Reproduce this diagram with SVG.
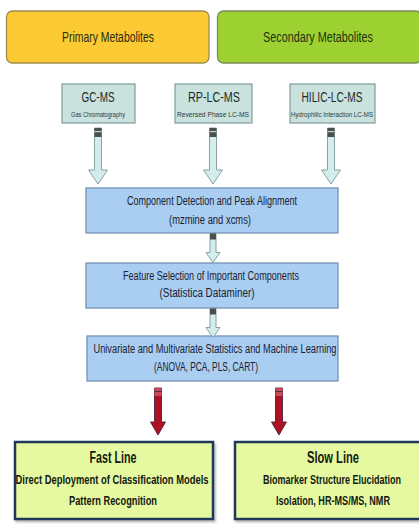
<svg xmlns="http://www.w3.org/2000/svg" xmlns:xlink="http://www.w3.org/1999/xlink" width="419" height="529" viewBox="0 0 419 529">
<style>
  text { font-family: "Liberation Sans Narrow", "Liberation Sans", Arial, sans-serif; text-anchor: middle; }
  .top { font-size: 14px; }
  .src { fill: #c9e2de; stroke: #7f9c9a; stroke-width: 1.2; }
  .srcT { font-size: 15px; fill: #1e2a2a; }
  .srcS { font-size: 6.5px; fill: #2a3a3a; }
  .blue { fill: #a9cef2; stroke: #7393b4; stroke-width: 1.3; }
  .blueT { font-size: 12px; fill: #1c2030; }
  .out { fill: #e6f9a0; stroke: #22385a; stroke-width: 2.5; }
  .outH { font-size: 16px; font-weight: bold; fill: #121a10; }
  .outT { font-size: 12.5px; font-weight: bold; fill: #121a10; }
  .hollow { fill: #d3ecec; stroke: #8aa2a2; stroke-width: 1; }
  .band { fill: #4a4f50; }
  .red { fill: #ae1222; stroke: #5a2a48; stroke-width: 1; }
  .redband { fill: #c84a58; }
</style>
<defs>
  <path id="ah" d="M-3.5,0 H3.5 V42 H9.5 L0,56 L-9.5,42 H-3.5 Z"/>
  <path id="as" d="M-3,0 H3 V19 H7 L0,29 L-7,19 H-3 Z"/>
  <path id="ar" d="M-3.5,0 H3.5 V34 H7.5 L0,47 L-7.5,34 H-3.5 Z"/>
  <filter id="sh" x="-5%" y="-5%" width="115%" height="120%">
    <feDropShadow dx="1.5" dy="2" stdDeviation="1.2" flood-color="#000" flood-opacity="0.3"/>
  </filter>
</defs>
<rect width="419" height="529" fill="#ffffff"/>

<g id="primary">
  <rect x="6.5" y="11" width="202.5" height="52" rx="6" fill="#fccb33" stroke="#a08c50" stroke-width="1.3"/>
  <text class="top" x="108" y="42" fill="#2e2a10" textLength="92" lengthAdjust="spacingAndGlyphs">Primary Metabolites</text>
</g>
<g id="secondary">
  <rect x="217.5" y="11" width="204" height="52" rx="6" fill="#9dd132" stroke="#7c8c55" stroke-width="1.3"/>
  <text class="top" x="318" y="42" fill="#1d3310" textLength="110" lengthAdjust="spacingAndGlyphs">Secondary Metabolites</text>
</g>

<g id="gcms">
  <rect class="src" x="62" y="84" width="73" height="39"/>
  <text class="srcT" x="98" y="102" textLength="33" lengthAdjust="spacingAndGlyphs">GC-MS</text>
  <text class="srcS" x="98" y="116.5" textLength="54" lengthAdjust="spacingAndGlyphs">Gas Chromatography</text>
</g>
<g id="rplcms">
  <rect class="src" x="175" y="84" width="77" height="39"/>
  <text class="srcT" x="214" y="102" textLength="52" lengthAdjust="spacingAndGlyphs">RP-LC-MS</text>
  <text class="srcS" x="213" y="116.5" textLength="72" lengthAdjust="spacingAndGlyphs">Reversed Phase LC-MS</text>
</g>
<g id="hiliclcms">
  <rect class="src" x="290" y="84" width="85" height="39"/>
  <text class="srcT" x="332" y="102" textLength="61" lengthAdjust="spacingAndGlyphs">HILIC-LC-MS</text>
  <text class="srcS" x="332" y="116.5" textLength="82" lengthAdjust="spacingAndGlyphs">Hydrophilic Interaction LC-MS</text>
</g>

<g id="detection">
  <rect class="blue" x="86" y="188" width="252" height="45"/>
  <text class="blueT" x="212" y="205" textLength="170" lengthAdjust="spacingAndGlyphs">Component Detection and Peak Alignment</text>
  <text class="blueT" x="210" y="224" textLength="82" lengthAdjust="spacingAndGlyphs">(mzmine and xcms)</text>
</g>
<g id="selection">
  <rect class="blue" x="86" y="263" width="252" height="45"/>
  <text class="blueT" x="211" y="280" textLength="176" lengthAdjust="spacingAndGlyphs">Feature Selection of Important Components</text>
  <text class="blueT" x="207" y="297" textLength="95" lengthAdjust="spacingAndGlyphs">(Statistica Dataminer)</text>
</g>
<g id="statistics">
  <rect class="blue" x="87" y="336" width="251" height="45"/>
  <text class="blueT" x="215" y="353" textLength="243" lengthAdjust="spacingAndGlyphs">Univariate and Multivariate Statistics and Machine Learning</text>
  <text class="blueT" x="206" y="371" textLength="104" lengthAdjust="spacingAndGlyphs">(ANOVA, PCA, PLS, CART)</text>
</g>

<g id="fastline">
  <rect class="out" x="15" y="442" width="198" height="77" filter="url(#sh)"/>
  <text class="outH" x="113" y="463" textLength="47" lengthAdjust="spacingAndGlyphs">Fast Line</text>
  <text class="outT" x="112" y="484" textLength="193" lengthAdjust="spacingAndGlyphs">Direct Deployment of Classification Models</text>
  <text class="outT" x="113" y="505" textLength="88" lengthAdjust="spacingAndGlyphs">Pattern Recognition</text>
</g>
<g id="slowline">
  <rect class="out" x="235" y="442" width="187" height="77" filter="url(#sh)"/>
  <text class="outH" x="333" y="463" textLength="52" lengthAdjust="spacingAndGlyphs">Slow Line</text>
  <text class="outT" x="332" y="484" textLength="138" lengthAdjust="spacingAndGlyphs">Biomarker Structure Elucidation</text>
  <text class="outT" x="333" y="505" textLength="114" lengthAdjust="spacingAndGlyphs">Isolation, HR-MS/MS, NMR</text>
</g>

<g id="connectors">
  <g transform="translate(98,128)">
    <use href="#ah" class="hollow"/>
    <rect class="band" x="-3.5" y="0" width="7" height="9"/>
    <rect x="-3.5" y="3" width="7" height="1.2" fill="#c8d4d4"/>
  </g>
  <g transform="translate(213,128)">
    <use href="#ah" class="hollow"/>
    <rect class="band" x="-3.5" y="0" width="7" height="9"/>
    <rect x="-3.5" y="3" width="7" height="1.2" fill="#c8d4d4"/>
  </g>
  <g transform="translate(331,128)">
    <use href="#ah" class="hollow"/>
    <rect class="band" x="-3.5" y="0" width="7" height="9"/>
    <rect x="-3.5" y="3" width="7" height="1.2" fill="#c8d4d4"/>
  </g>
  <g transform="translate(213,233.5)">
    <use href="#as" class="hollow"/>
    <rect class="band" x="-3" y="0" width="6" height="6"/>
  </g>
  <g transform="translate(213,308.5)">
    <use href="#as" class="hollow"/>
    <rect class="band" x="-3" y="0" width="6" height="6"/>
  </g>
  <g transform="translate(158,388)">
    <use href="#ar" class="red"/>
    <rect class="redband" x="-3.5" y="0" width="7" height="8"/>
    <rect x="-3.5" y="3" width="7" height="1" fill="#5a2a48"/>
  </g>
  <g transform="translate(279,388)">
    <use href="#ar" class="red"/>
    <rect class="redband" x="-3.5" y="0" width="7" height="8"/>
    <rect x="-3.5" y="3" width="7" height="1" fill="#5a2a48"/>
  </g>
</g>
</svg>
